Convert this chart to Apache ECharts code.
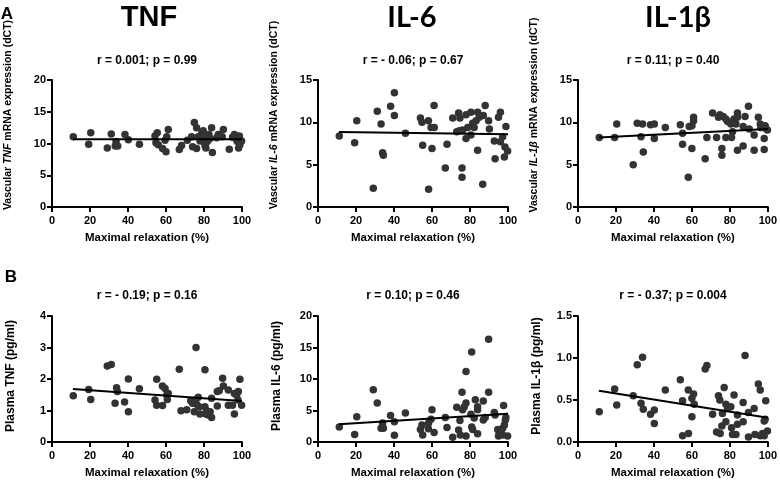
<!DOCTYPE html>
<html lang="en">
<head>
  <meta charset="UTF-8">
  <title>Maximal relaxation vs cytokines</title>
  <script src="https://cdn.jsdelivr.net/npm/echarts@6/dist/echarts.min.js"></script>
  <style>
    body { margin: 0; background: #fff; }
  </style>
</head>
<body>
  <div id="main" style="width: 780px;height:482px;"></div>

  <script type="text/javascript">
    // [maximal relaxation %, value]
    const tnfMrna = [[11.2,11.05],[20.4,11.7],[19.3,9.9],[29.1,9.3],[31.2,11.5],[33.7,10.3],[34.6,9.6],[33.3,9.6],[38.4,11.4],[40.2,10.6],[46,9.9],[54.2,11.2],[55.4,11.7],[54.7,10.1],[55.9,9.8],[58.2,9.2],[60,8.7],[61.2,12.2],[60.4,11.05],[59.5,10.5],[67,9.05],[68.2,9.7],[71.2,10.5],[74.9,13.3],[76.1,12.5],[73.5,11.05],[74,9.5],[76.1,9.2],[77,11.05],[77.9,10.4],[78.8,11.6],[79.6,12],[80,10.9],[80.5,9.7],[81,9.3],[81.8,10.3],[82.6,11.4],[84,12.5],[83.2,10.8],[84.4,8.6],[86.7,10.9],[87.5,11.4],[90.2,12.2],[89.6,11.05],[93.3,9.1],[96,11.4],[96.8,10.8],[97.5,10.3],[98.6,11.2],[98.9,9.8],[99.8,10.4],[98.2,9.3],[96.3,10.9],[95,11]];
    const il6Mrna = [[11.2,8.4],[20.4,10.2],[19.3,7.6],[29.1,2.2],[31.2,11.3],[33.2,9.8],[34,6.4],[34.4,6.1],[38.2,11.9],[40.2,13.5],[40.2,10.8],[46,8.7],[53.9,10.5],[54.7,10],[55.1,7.3],[58.1,10.2],[58.2,2.1],[59.5,9.4],[61.2,9.4],[60,6.9],[61.1,12],[67.9,7.4],[67,4.6],[70.9,10.5],[74,11.1],[74.7,10.5],[73,8.9],[74.4,9],[76.1,9.1],[75.8,4.6],[75.8,3.5],[77.9,10.9],[77.9,8.1],[78.8,9.4],[80.5,11.2],[80.5,8.5],[81.4,9.9],[82.2,9.4],[83.2,10.2],[84,11.2],[84,6.7],[84.9,10.6],[87,10.8],[86.7,2.7],[88,12],[89.8,10.2],[90.2,9.2],[92.8,7.8],[93.2,5.7],[95,10.6],[96,11.2],[96,7.7],[97.2,8.3],[98.1,5.9],[98.4,7.1],[98.9,9.5],[99.8,6.6]];
    const il1bMrna = [[11.2,8.2],[19.3,8.2],[20.4,9.8],[29.1,5.0],[31.2,9.9],[33.2,8.3],[34,9.8],[34.4,6.5],[38.2,9.7],[40.2,9.8],[40.2,8.1],[46,9.4],[53.9,9.7],[55.1,8.7],[55.1,7.4],[58.1,3.5],[58.6,9.5],[60,9.6],[60,6.9],[60.9,10.6],[60.9,10.2],[67.9,8.2],[67,5.7],[70.9,11.1],[73,8.2],[74,10.6],[74.7,10.9],[75.8,6.9],[75.8,6.1],[76.5,10.7],[77.9,10.4],[77.9,8.2],[78.8,10.1],[80.5,9.8],[80.9,8.2],[81.4,8.9],[82.2,10.4],[83.2,9.8],[84,11.1],[84,6.7],[84,10.6],[87,9.5],[87,7.2],[88,10.7],[89.8,11.9],[90.2,9.2],[92.8,8.5],[92.8,6.7],[95,10.6],[96,9.8],[96.3,9.4],[98.1,8.1],[98.1,6.8],[98.6,9.6],[98.9,9.3],[99.8,9.1],[97.2,9.4]];
    const tnfPlasma = [[11.2,1.47],[19.3,1.67],[20.4,1.35],[29.1,2.41],[31.2,2.46],[33.2,1.23],[34,1.72],[34.4,1.6],[38.2,1.27],[40.2,2.0],[40.2,0.96],[46,1.69],[54.2,1.33],[55.1,1.99],[55.1,1.17],[58.2,1.16],[58.1,1.78],[59.5,1.7],[60.4,1.49],[60.7,1.35],[61.2,1.54],[67,2.31],[67.9,0.99],[70.9,1.02],[73,1.31],[74,1.23],[74.9,0.96],[75.8,3.0],[75.3,1.33],[77,1.42],[77.5,1.12],[77.9,0.89],[76.1,1.2],[80.5,2.29],[80.5,1.12],[80.9,0.89],[81.4,0.99],[82.2,0.86],[83.2,0.96],[84,0.78],[84,1.39],[87,1.14],[87,1.6],[88,1.63],[89.8,2.02],[90.2,1.78],[92.8,1.65],[92.8,1.17],[95,1.17],[96,0.89],[96,1.54],[97.2,1.49],[98.1,1.6],[98.9,1.99],[99.8,1.17],[97.9,1.33]];
    const il6Plasma = [[11.2,2.4],[19.3,1.2],[20.4,4.0],[29.1,8.3],[31.2,6.2],[33.2,2.2],[34,3.0],[34.4,2.2],[38.2,4.2],[40.2,3.2],[40.2,1.06],[46,4.6],[53.9,2.0],[54.7,2.7],[55.1,1.1],[58.1,2.1],[58.2,3.0],[59.5,3.6],[60,5.1],[61.1,1.5],[67,3.9],[67.9,2.3],[70.9,0.74],[73,5.5],[74,1.9],[74.7,3.4],[74.9,1.1],[75.8,7.9],[76.1,5.1],[77,5.6],[77.9,11.2],[77.9,0.95],[77.9,6.2],[80.5,4.4],[80.9,14.3],[80.9,2.4],[81.4,2.0],[82.2,3.8],[82.8,6.7],[84,5.6],[84,5.1],[84,1.3],[87,6.5],[87,3.5],[88,3.9],[89.8,16.3],[89.8,7.9],[92.8,4.7],[93.2,4.3],[94.6,2.0],[95.4,1.4],[96.3,1.8],[97.2,2.2],[97.7,5.8],[98.1,2.7],[98.6,3.5],[98.9,3.9],[99.8,0.95],[97.2,1.1],[95,0.95]];
    const il1bPlasma = [[11.2,0.36],[19.3,0.63],[20.4,0.44],[29.1,0.55],[31.2,0.92],[34,1.01],[33.2,0.46],[34.4,0.39],[38.2,0.33],[40.2,0.38],[40.2,0.22],[46,0.62],[53.9,0.74],[55.1,0.49],[55.1,0.075],[58.1,0.62],[58.2,0.1],[60,0.52],[60,0.3],[60.9,0.57],[61.2,0.45],[67,0.87],[67.9,0.91],[70.9,0.33],[73,0.12],[74,0.55],[74.7,0.5],[74.9,0.1],[75.8,0.19],[77,0.65],[76.1,0.34],[77.9,0.45],[77.9,0.24],[78.8,0.4],[80.5,0.42],[80.9,0.17],[81.4,0.09],[82.2,0.56],[83.2,0.09],[84,0.32],[84,0.21],[87,0.47],[87,0.24],[88,1.03],[89.8,0.35],[89.8,0.06],[92.8,0.4],[93.2,0.09],[95,0.69],[96,0.62],[96,0.075],[97.2,0.1],[98.1,0.25],[98.1,0.075],[98.6,0.27],[98.9,0.49],[99.8,0.13]];

    // regression line ends
    const fitX = [11, 100];
    const tnfMrnaFit = [10.65, 10.65];
    const il6MrnaFit = [8.85, 8.6];
    const il1bMrnaFit = [8.2, 9.2];
    const tnfPlasmaFit = [1.68, 1.3];
    const il6PlasmaFit = [2.8, 4.5];
    const il1bPlasmaFit = [0.61, 0.29];

    const xTicks = [0, 100, 20];
    const stats = ['r = 0.001; p = 0.99', 'r = - 0.06; p = 0.67', 'r = 0.11; p = 0.40',
                   'r = - 0.19; p = 0.16', 'r = 0.10; p = 0.46', 'r = - 0.37; p = 0.004'];
    const yNames = ['Vascular {i|TNF} mRNA expression (dCT)', 'Vascular {i|IL-6} mRNA expression (dCT)',
                    'Vascular {i|IL-1β} mRNA expression (dCT)',
                    'Plasma TNF (pg/ml)', 'Plasma IL-6 (pg/ml)', 'Plasma IL-1β (pg/ml)'];
    const yMax = [20, 15, 15, 4, 20, 1.5];
    const yStep = [5, 5, 5, 1, 5, 0.5];

    const allData = [tnfMrna, il6Mrna, il1bMrna, tnfPlasma, il6Plasma, il1bPlasma];
    const allFits = [tnfMrnaFit, il6MrnaFit, il1bMrnaFit, tnfPlasmaFit, il6PlasmaFit, il1bPlasmaFit];

    const FONT = "'Liberation Sans', Arial, sans-serif";
    const lefts = [52, 318, 578];
    const tops = [80, 316];
    const W = 190, H = 127;

    let grids = [], xAxes = [], yAxes = [], series = [], texts = [];

    for (let i = 0; i < 6; i++) {
      const col = i % 3, row = Math.floor(i / 3);
      const left = lefts[col], top = tops[row];
      grids.push({ left: left, top: top, width: W, height: row ? 126 : H });

      xAxes.push({
        gridIndex: i, type: 'value', min: xTicks[0], max: xTicks[1], interval: xTicks[2],
        name: 'Maximal relaxation (%)', nameLocation: 'middle', nameGap: 25,
        nameTextStyle: { fontFamily: FONT, fontWeight: 'bold', fontSize: 11.5, color: '#000' },
        axisLine: { lineStyle: { color: '#000', width: 2 } },
        axisTick: { length: 5, lineStyle: { color: '#000', width: 2 } },
        axisLabel: { margin: 8, fontFamily: FONT, fontWeight: 'bold', fontSize: 11, color: '#000' },
        splitLine: { show: false }
      });
      yAxes.push({
        gridIndex: i, type: 'value', min: 0, max: yMax[i], interval: yStep[i],
        axisLine: { show: true, lineStyle: { color: '#000', width: 2 } },
        axisTick: { show: true, length: 5, lineStyle: { color: '#000', width: 2 } },
        axisLabel: {
          margin: 6, fontFamily: FONT, fontWeight: 'bold', fontSize: 11, color: '#000',
          formatter: i === 5 ? (v => v.toFixed(1)) : null
        },
        splitLine: { show: false }
      });

      series.push({
        type: 'scatter', xAxisIndex: i, yAxisIndex: i, data: allData[i],
        symbolSize: 7.5, itemStyle: { color: '#333', opacity: 1 }
      });
      series.push({
        type: 'line', xAxisIndex: i, yAxisIndex: i,
        data: fitX.map((x, k) => [x, allFits[i][k]]),
        showSymbol: false, symbol: 'none', z: 3,
        lineStyle: { color: '#000', width: 2 }
      });

      // correlation text above each panel
      texts.push({
        type: 'text', x: left + W / 2, y: row ? 296 : 61,
        style: { text: stats[i], font: 'bold 12px ' + FONT, fill: '#000', align: 'center', verticalAlign: 'middle' }
      });
      // rotated y-axis title
      const fs = row ? 12 : 10.5;
      texts.push({
        type: 'text', x: row ? left - 41 : left - 44, y: row ? 376 : 115, rotation: Math.PI / 2,
        style: {
          text: yNames[i], font: 'bold ' + fs + 'px ' + FONT, fill: '#000',
          align: 'center', verticalAlign: 'middle',
          rich: { i: { fontStyle: 'italic', fontWeight: 'bold', fontSize: fs, fontFamily: FONT, fill: '#000' } }
        }
      });
    }

    texts.push(
      { type: 'text', x: 7, y: 14, style: { text: 'A', font: 'bold 17px ' + FONT, fill: '#000', align: 'center', verticalAlign: 'middle' } },
      { type: 'text', x: 11, y: 277, style: { text: 'B', font: 'bold 17px ' + FONT, fill: '#000', align: 'center', verticalAlign: 'middle' } },
      { type: 'text', x: 149, y: 18, style: { text: 'TNF', font: 'bold 29px ' + FONT, fill: '#000', align: 'center', verticalAlign: 'middle' } },
      { type: 'text', x: 412, y: 18, style: { text: 'IL-6', font: "bold 29px Lato, 'Open Sans', sans-serif", fill: '#000', align: 'center', verticalAlign: 'middle' } },
      { type: 'text', x: 678, y: 18, style: { text: 'IL-1β', font: "bold 29px Lato, 'Open Sans', sans-serif", fill: '#000', align: 'center', verticalAlign: 'middle' } }
    );

    let options = {
      animation: false,
      backgroundColor: '#fff',
      grid: grids,
      xAxis: xAxes,
      yAxis: yAxes,
      series: series,
      graphic: texts
    };

    let myChart = echarts.init(document.getElementById('main'));
    myChart.setOption(options);
  </script>
</body>
</html>
